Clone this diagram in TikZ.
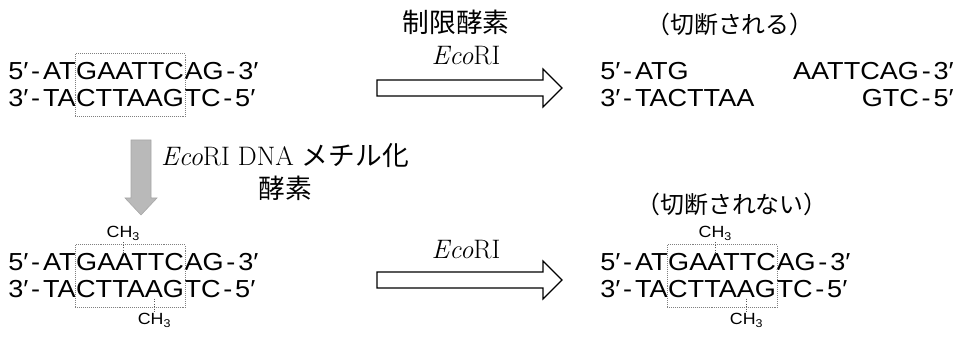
\documentclass[tikz,border=0pt]{standalone}
\usepackage{fontspec}
\newfontfamily\dnafont[FakeStretch=1.1]{Liberation Sans}
\newfontfamily\jpfont{Noto Sans CJK JP}
\usetikzlibrary{positioning,fit,calc}
\newcommand{\hy}{\kern2pt-\kern2pt}

\begin{document}
\begin{tikzpicture}[x=0.025cm,y=-0.025cm,
  seq/.style={font=\dnafont\fontsize{17.5}{20}\selectfont, inner sep=0pt, anchor=base west},
  site/.style={draw=gray, densely dotted, inner xsep=0.5pt, inner ysep=6.5pt},
  methyl/.style={font=\dnafont\fontsize{11.5}{13}\selectfont, inner sep=0.5pt},
  mtick/.style={densely dotted, thick, gray!70!black},
  blockarrow/.style={draw=black, fill=white, line width=0.8pt},
  grayarrow/.style={fill=gray!55, draw=gray!70},
  jp/.style={font=\jpfont\fontsize{17}{20}\selectfont},
  lbl/.style={font=\fontsize{19}{24}\selectfont}]
\useasboundingbox (0,0) rectangle (968,347);

% EcoRI site
\begin{scope}
  \node[seq] (a1) at (8,80) {5′\hy AT};
  \node[seq] (b1) at (a1.base east) {GAATTC};
  \node[seq] (c1) at (b1.base east) {AG\hy 3′};
  \node[seq] (a2) at (8,107) {3′\hy TA};
  \node[seq] (b2) at (a2.base east) {CTTAAG};
  \node[seq] (c2) at (b2.base east) {TC\hy 5′};
  \node[site, fit=(b1)(b2)] (s1) {};
\end{scope}

% cut ends
\node[seq] (d1) at (600,80) {5′\hy ATG};
\node[seq, anchor=base east] (e1) at (954,80) {AATTCAG\hy 3′};
\node[seq] (d2) at (600,107) {3′\hy TACTTAA};
\node[seq, anchor=base east] (e2) at (954,107) {GTC\hy 5′};
\node[jp] (cut) at (730,24) {（切断される）};

\draw[blockarrow] (377,80) -- (543,80) -- (543,69) -- (562,88) -- (543,107) -- (543,96) -- (377,96) -- cycle;
\node[jp, font=\jpfont\fontsize{19}{22}\selectfont] (enz) at (456,22) {制限酵素};
\node[lbl] (eco1) at (466,56) {\textit{Eco}RI};

% methylation
\draw[grayarrow] (131,140) -- (151,140) -- (151,198) -- (157,198) -- (141,215) -- (125,198) -- (131,198) -- cycle;
\node[lbl, align=center] (mtase) at (285,172) {\textit{Eco}RI DNA {\jpfont メチル化}\\{\jpfont 酵素}};

% methylated site
\begin{scope}[shift={(0,191)}]
  \node[seq] (ma1) at (8,80) {5′\hy AT};
  \node[seq] (mb1) at (ma1.base east) {GAATTC};
  \node[seq] (mc1) at (mb1.base east) {AG\hy 3′};
  \node[seq] (ma2) at (8,107) {3′\hy TA};
  \node[seq] (mb2) at (ma2.base east) {CTTAAG};
  \node[seq] (mc2) at (mb2.base east) {TC\hy 5′};
  \node[site, fit=(mb1)(mb2)] (ms) {};
  \node[methyl, anchor=south] (mch1) at ($(mb1.north west)!0.438!(mb1.north east)+(0,-12)$) {CH\textsubscript{3}};
  \node[methyl, anchor=north] (mch2) at ($(mb2.south west)!0.726!(mb2.south east)+(0,14)$) {CH\textsubscript{3}};
  \draw[mtick] ($(mb1.north west)!0.438!(mb1.north east)$) -- (mch1.south);
  \draw[mtick] ($(mb2.south west)!0.726!(mb2.south east)$) -- (mch2.north);
\end{scope}

\draw[blockarrow] (377,272) -- (543,272) -- (543,261) -- (562,280) -- (543,299) -- (543,288) -- (377,288) -- cycle;
\node[lbl] (eco2) at (466,250) {\textit{Eco}RI};

% not cut
\begin{scope}[shift={(592,191)}]
  \node[seq] (ra1) at (8,80) {5′\hy AT};
  \node[seq] (rb1) at (ra1.base east) {GAATTC};
  \node[seq] (rc1) at (rb1.base east) {AG\hy 3′};
  \node[seq] (ra2) at (8,107) {3′\hy TA};
  \node[seq] (rb2) at (ra2.base east) {CTTAAG};
  \node[seq] (rc2) at (rb2.base east) {TC\hy 5′};
  \node[site, fit=(rb1)(rb2)] (rs) {};
  \node[methyl, anchor=south] (rch1) at ($(rb1.north west)!0.438!(rb1.north east)+(0,-12)$) {CH\textsubscript{3}};
  \node[methyl, anchor=north] (rch2) at ($(rb2.south west)!0.726!(rb2.south east)+(0,14)$) {CH\textsubscript{3}};
  \draw[mtick] ($(rb1.north west)!0.438!(rb1.north east)$) -- (rch1.south);
  \draw[mtick] ($(rb2.south west)!0.726!(rb2.south east)$) -- (rch2.north);
\end{scope}
\node[jp] (nocut) at (732,204) {（切断されない）};

\end{tikzpicture}
\end{document}
